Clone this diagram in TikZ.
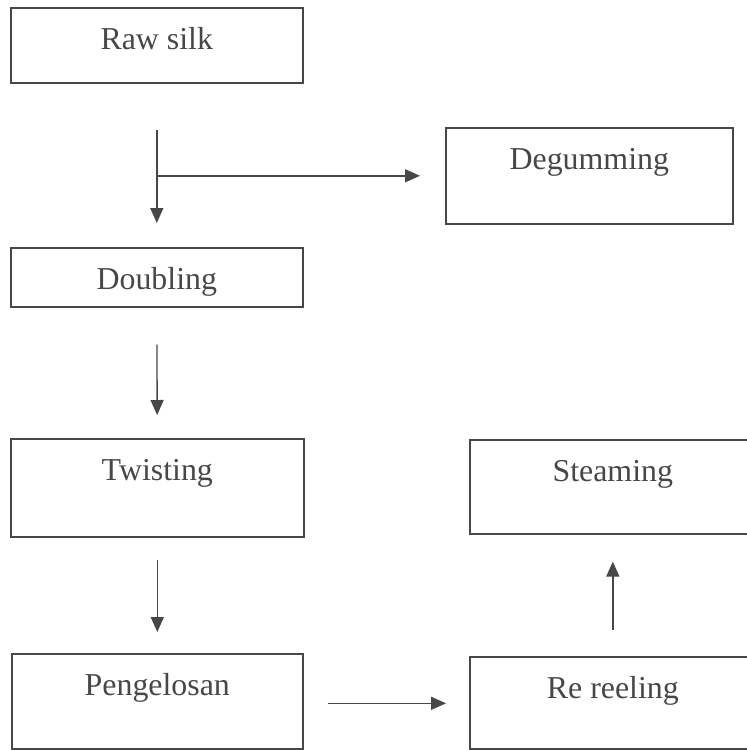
\documentclass[tikz,border=0pt]{standalone}
\usepackage{fontspec}
\setmainfont{Liberation Serif}
\usetikzlibrary{calc, arrows.meta}
\definecolor{inkgray}{HTML}{474747}
\tikzset{>={Triangle[length=15bp,width=13bp]}}
\tikzset{
  stage/.style={draw=inkgray, line width=1.6bp, rectangle, inner sep=0pt,
    text=inkgray, font=\fontsize{32}{38}\selectfont, text height=42bp},
  flow/.style={->, draw=inkgray, line width=1.4bp}
}

\begin{document}
\begin{tikzpicture}[x=1bp, y=-1bp]
    \useasboundingbox (0,0) rectangle (747,750);
    % left column
    \node[stage, anchor=north west, minimum width=292bp, text depth=33bp] (raw) at (10,7) {Raw silk};
    \node[stage, anchor=north west, minimum width=292bp, text depth=17bp] (doubling) at (10,247) {Doubling};
    \node[stage, anchor=north west, minimum width=293bp, text depth=56bp] (twisting) at (10,438) {Twisting};
    \node[stage, anchor=north west, minimum width=291bp, text depth=53bp] (peng) at (11,653) {Pengelosan};
    % right column
    \node[stage, anchor=north west, minimum width=287bp, text depth=54bp] (degum) at (445,127) {Degumming};
    \node[stage, anchor=north west, minimum width=286bp, text depth=52bp] (steam) at (469,439) {Steaming};
    \node[stage, anchor=north west, minimum width=286bp, text depth=50bp] (rereel) at (469,656) {Re reeling};
    \draw[flow, shorten <=46bp, shorten >=24bp] (raw) -- (doubling);
    \draw[flow, shorten >=25bp] (degum.west -| raw.south) -- (degum.west);
    \draw[flow, shorten <=37bp, shorten >=23bp] (doubling) -- (twisting);
    \draw[flow, shorten <=22bp, shorten >=21bp] (twisting) -- (peng);
    \draw[flow, shorten <=24bp, shorten >=23bp] ($(peng.east)+(0,2)$) -- ($(peng.east -| rereel.west)+(0,2)$);
    \draw[flow, shorten <=26bp, shorten >=27bp] (rereel) -- (steam);
\end{tikzpicture}
\end{document}
